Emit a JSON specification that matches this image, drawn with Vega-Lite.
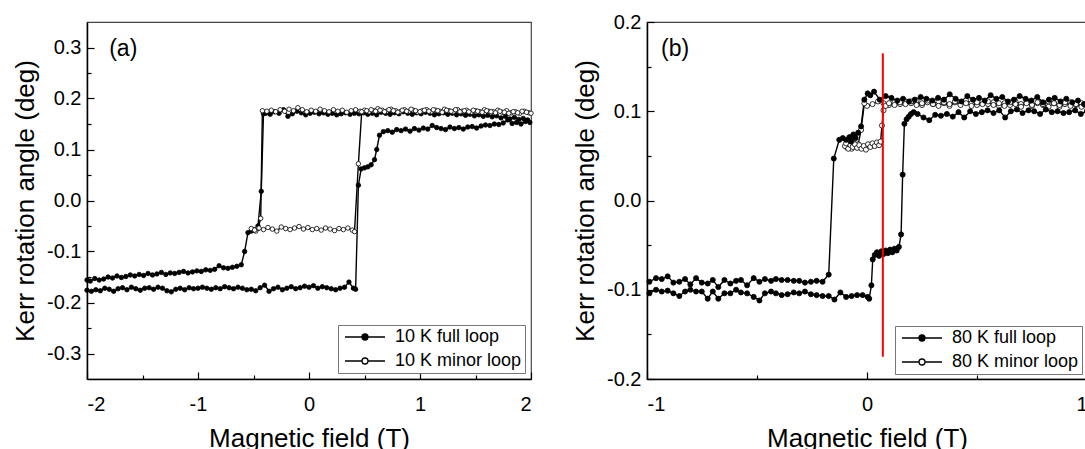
{
  "$schema": "https://vega.github.io/schema/vega-lite/v6.json",
  "padding": {"left": 11, "top": 11, "right": 0, "bottom": 0},
  "spacing": 35,
  "config": {
    "font": "Liberation Sans",
    "view": {"stroke": "#444", "strokeWidth": 1.2},
    "axis": {
      "grid": false, "domainColor": "black", "domainWidth": 1.5,
      "tickColor": "black", "tickWidth": 1.2,
      "labelFont": "Liberation Sans", "labelFontSize": 20, "labelColor": "black",
      "titleFont": "Liberation Sans", "titleFontSize": 26, "titleFontWeight": "normal", "titleColor": "black"
    },
    "axisX": {"minExtent": 38, "maxExtent": 38, "titlePadding": 8, "labelPadding": 22},
    "axisY": {"minExtent": 40, "maxExtent": 40, "titlePadding": 9, "labelPadding": 13},
    "legend": {
      "title": null, "orient": "bottom-right",
      "symbolType": "M-1,0H2.4M3.6,0H7M2.4,0A0.6,0.6,0,1,0,3.6,0A0.6,0.6,0,1,0,2.4,0Z",
      "symbolSize": 100, "symbolStrokeColor": "black", "symbolStrokeWidth": 1.3,
      "labelOffset": 36, "labelFont": "Liberation Sans", "labelFontSize": 18, "labelColor": "black",
      "strokeColor": "#777", "fillColor": "white", "padding": 3, "rowPadding": 6
    }
  },
  "resolve": {"scale": {"fill": "independent"}, "legend": {"fill": "independent"}},
  "datasets": {
    "a": [
      {"s":"F","x":-2,"y":-0.176},{"s":"F","x":-1.96,"y":-0.178},{"s":"F","x":-1.92,"y":-0.175},{"s":"F","x":-1.88,"y":-0.177},{"s":"F","x":-1.84,"y":-0.172},{"s":"F","x":-1.8,"y":-0.174},{"s":"F","x":-1.76,"y":-0.178},{"s":"F","x":-1.72,"y":-0.173},{"s":"F","x":-1.68,"y":-0.171},{"s":"F","x":-1.64,"y":-0.175},{"s":"F","x":-1.6,"y":-0.17},{"s":"F","x":-1.56,"y":-0.173},{"s":"F","x":-1.52,"y":-0.176},{"s":"F","x":-1.48,"y":-0.172},{"s":"F","x":-1.44,"y":-0.171},{"s":"F","x":-1.4,"y":-0.174},{"s":"F","x":-1.36,"y":-0.17},{"s":"F","x":-1.32,"y":-0.172},{"s":"F","x":-1.28,"y":-0.177},{"s":"F","x":-1.24,"y":-0.179},{"s":"F","x":-1.2,"y":-0.174},{"s":"F","x":-1.16,"y":-0.172},{"s":"F","x":-1.12,"y":-0.175},{"s":"F","x":-1.08,"y":-0.171},{"s":"F","x":-1.04,"y":-0.173},{"s":"F","x":-1,"y":-0.172},{"s":"F","x":-0.96,"y":-0.17},{"s":"F","x":-0.92,"y":-0.172},{"s":"F","x":-0.88,"y":-0.174},{"s":"F","x":-0.84,"y":-0.171},{"s":"F","x":-0.8,"y":-0.173},{"s":"F","x":-0.76,"y":-0.169},{"s":"F","x":-0.72,"y":-0.171},{"s":"F","x":-0.68,"y":-0.173},{"s":"F","x":-0.64,"y":-0.17},{"s":"F","x":-0.6,"y":-0.172},{"s":"F","x":-0.56,"y":-0.175},{"s":"F","x":-0.52,"y":-0.174},{"s":"F","x":-0.48,"y":-0.177},{"s":"F","x":-0.44,"y":-0.171},{"s":"F","x":-0.4,"y":-0.166},{"s":"F","x":-0.36,"y":-0.178},{"s":"F","x":-0.32,"y":-0.173},{"s":"F","x":-0.28,"y":-0.17},{"s":"F","x":-0.24,"y":-0.175},{"s":"F","x":-0.2,"y":-0.172},{"s":"F","x":-0.16,"y":-0.169},{"s":"F","x":-0.12,"y":-0.173},{"s":"F","x":-0.08,"y":-0.171},{"s":"F","x":-0.04,"y":-0.168},{"s":"F","x":0,"y":-0.17},{"s":"F","x":0.04,"y":-0.167},{"s":"F","x":0.08,"y":-0.172},{"s":"F","x":0.12,"y":-0.169},{"s":"F","x":0.16,"y":-0.171},{"s":"F","x":0.2,"y":-0.173},{"s":"F","x":0.24,"y":-0.175},{"s":"F","x":0.28,"y":-0.172},{"s":"F","x":0.32,"y":-0.17},{"s":"F","x":0.36,"y":-0.16},{"s":"F","x":0.4,"y":-0.172},{"s":"F","x":0.42,"y":-0.174},
      {"s":"F","x":0.445,"y":0.03},{"s":"F","x":0.47,"y":0.062},{"s":"F","x":0.5,"y":0.064},{"s":"F","x":0.53,"y":0.066},{"s":"F","x":0.56,"y":0.07},{"s":"F","x":0.59,"y":0.08},{"s":"F","x":0.61,"y":0.1},{"s":"F","x":0.635,"y":0.128},{"s":"F","x":0.67,"y":0.135},{"s":"F","x":0.71,"y":0.137},{"s":"F","x":0.75,"y":0.134},{"s":"F","x":0.79,"y":0.139},{"s":"F","x":0.83,"y":0.137},{"s":"F","x":0.87,"y":0.14},{"s":"F","x":0.91,"y":0.136},{"s":"F","x":0.95,"y":0.141},{"s":"F","x":0.99,"y":0.138},{"s":"F","x":1.03,"y":0.142},{"s":"F","x":1.07,"y":0.14},{"s":"F","x":1.11,"y":0.147},{"s":"F","x":1.15,"y":0.143},{"s":"F","x":1.19,"y":0.141},{"s":"F","x":1.23,"y":0.139},{"s":"F","x":1.27,"y":0.144},{"s":"F","x":1.31,"y":0.141},{"s":"F","x":1.35,"y":0.143},{"s":"F","x":1.39,"y":0.14},{"s":"F","x":1.43,"y":0.144},{"s":"F","x":1.47,"y":0.145},{"s":"F","x":1.51,"y":0.142},{"s":"F","x":1.55,"y":0.146},{"s":"F","x":1.59,"y":0.148},{"s":"F","x":1.63,"y":0.147},{"s":"F","x":1.67,"y":0.15},{"s":"F","x":1.71,"y":0.149},{"s":"F","x":1.75,"y":0.152},{"s":"F","x":1.79,"y":0.158},{"s":"F","x":1.83,"y":0.151},{"s":"F","x":1.87,"y":0.153},{"s":"F","x":1.91,"y":0.15},{"s":"F","x":1.95,"y":0.155},{"s":"F","x":1.99,"y":0.153},
      {"s":"F","x":1.97,"y":0.158},{"s":"F","x":1.93,"y":0.161},{"s":"F","x":1.89,"y":0.159},{"s":"F","x":1.85,"y":0.163},{"s":"F","x":1.81,"y":0.16},{"s":"F","x":1.77,"y":0.165},{"s":"F","x":1.73,"y":0.162},{"s":"F","x":1.69,"y":0.166},{"s":"F","x":1.65,"y":0.164},{"s":"F","x":1.61,"y":0.167},{"s":"F","x":1.57,"y":0.165},{"s":"F","x":1.53,"y":0.168},{"s":"F","x":1.49,"y":0.166},{"s":"F","x":1.45,"y":0.169},{"s":"F","x":1.41,"y":0.167},{"s":"F","x":1.37,"y":0.17},{"s":"F","x":1.33,"y":0.168},{"s":"F","x":1.29,"y":0.171},{"s":"F","x":1.25,"y":0.169},{"s":"F","x":1.21,"y":0.172},{"s":"F","x":1.17,"y":0.17},{"s":"F","x":1.13,"y":0.168},{"s":"F","x":1.09,"y":0.171},{"s":"F","x":1.05,"y":0.173},{"s":"F","x":1.01,"y":0.17},{"s":"F","x":0.97,"y":0.172},{"s":"F","x":0.93,"y":0.169},{"s":"F","x":0.89,"y":0.171},{"s":"F","x":0.85,"y":0.174},{"s":"F","x":0.81,"y":0.17},{"s":"F","x":0.77,"y":0.172},{"s":"F","x":0.73,"y":0.169},{"s":"F","x":0.69,"y":0.171},{"s":"F","x":0.65,"y":0.173},{"s":"F","x":0.61,"y":0.168},{"s":"F","x":0.57,"y":0.171},{"s":"F","x":0.53,"y":0.169},{"s":"F","x":0.49,"y":0.172},{"s":"F","x":0.45,"y":0.17},{"s":"F","x":0.41,"y":0.171},{"s":"F","x":0.37,"y":0.169},{"s":"F","x":0.33,"y":0.172},{"s":"F","x":0.29,"y":0.17},{"s":"F","x":0.25,"y":0.168},{"s":"F","x":0.21,"y":0.171},{"s":"F","x":0.17,"y":0.169},{"s":"F","x":0.13,"y":0.172},{"s":"F","x":0.09,"y":0.17},{"s":"F","x":0.05,"y":0.173},{"s":"F","x":0.01,"y":0.171},{"s":"F","x":-0.03,"y":0.168},{"s":"F","x":-0.07,"y":0.172},{"s":"F","x":-0.11,"y":0.175},{"s":"F","x":-0.15,"y":0.17},{"s":"F","x":-0.19,"y":0.165},{"s":"F","x":-0.23,"y":0.178},{"s":"F","x":-0.27,"y":0.171},{"s":"F","x":-0.31,"y":0.174},{"s":"F","x":-0.35,"y":0.169},{"s":"F","x":-0.39,"y":0.171},{"s":"F","x":-0.41,"y":0.17},
      {"s":"F","x":-0.43,"y":0.018},{"s":"F","x":-0.46,"y":-0.05},{"s":"F","x":-0.49,"y":-0.058},{"s":"F","x":-0.52,"y":-0.06},{"s":"F","x":-0.55,"y":-0.063},{"s":"F","x":-0.58,"y":-0.1},{"s":"F","x":-0.61,"y":-0.126},{"s":"F","x":-0.65,"y":-0.129},{"s":"F","x":-0.69,"y":-0.131},{"s":"F","x":-0.73,"y":-0.133},{"s":"F","x":-0.77,"y":-0.132},{"s":"F","x":-0.81,"y":-0.128},{"s":"F","x":-0.85,"y":-0.135},{"s":"F","x":-0.89,"y":-0.137},{"s":"F","x":-0.93,"y":-0.136},{"s":"F","x":-0.97,"y":-0.139},{"s":"F","x":-1.01,"y":-0.138},{"s":"F","x":-1.05,"y":-0.14},{"s":"F","x":-1.09,"y":-0.142},{"s":"F","x":-1.13,"y":-0.139},{"s":"F","x":-1.17,"y":-0.141},{"s":"F","x":-1.21,"y":-0.143},{"s":"F","x":-1.25,"y":-0.142},{"s":"F","x":-1.29,"y":-0.145},{"s":"F","x":-1.33,"y":-0.141},{"s":"F","x":-1.37,"y":-0.144},{"s":"F","x":-1.41,"y":-0.146},{"s":"F","x":-1.45,"y":-0.143},{"s":"F","x":-1.49,"y":-0.147},{"s":"F","x":-1.53,"y":-0.145},{"s":"F","x":-1.57,"y":-0.148},{"s":"F","x":-1.61,"y":-0.146},{"s":"F","x":-1.65,"y":-0.149},{"s":"F","x":-1.69,"y":-0.151},{"s":"F","x":-1.73,"y":-0.148},{"s":"F","x":-1.77,"y":-0.152},{"s":"F","x":-1.81,"y":-0.15},{"s":"F","x":-1.85,"y":-0.154},{"s":"F","x":-1.89,"y":-0.156},{"s":"F","x":-1.93,"y":-0.153},{"s":"F","x":-1.97,"y":-0.158},{"s":"F","x":-2,"y":-0.156},
      {"s":"M","x":1.98,"y":0.172},{"s":"M","x":1.94,"y":0.175},{"s":"M","x":1.9,"y":0.171},{"s":"M","x":1.86,"y":0.174},{"s":"M","x":1.82,"y":0.172},{"s":"M","x":1.78,"y":0.176},{"s":"M","x":1.74,"y":0.173},{"s":"M","x":1.7,"y":0.177},{"s":"M","x":1.66,"y":0.174},{"s":"M","x":1.62,"y":0.175},{"s":"M","x":1.58,"y":0.178},{"s":"M","x":1.54,"y":0.174},{"s":"M","x":1.5,"y":0.176},{"s":"M","x":1.46,"y":0.173},{"s":"M","x":1.42,"y":0.177},{"s":"M","x":1.38,"y":0.175},{"s":"M","x":1.34,"y":0.178},{"s":"M","x":1.3,"y":0.174},{"s":"M","x":1.26,"y":0.176},{"s":"M","x":1.22,"y":0.179},{"s":"M","x":1.18,"y":0.175},{"s":"M","x":1.14,"y":0.177},{"s":"M","x":1.1,"y":0.174},{"s":"M","x":1.06,"y":0.178},{"s":"M","x":1.02,"y":0.176},{"s":"M","x":0.98,"y":0.173},{"s":"M","x":0.94,"y":0.177},{"s":"M","x":0.9,"y":0.175},{"s":"M","x":0.86,"y":0.178},{"s":"M","x":0.82,"y":0.174},{"s":"M","x":0.78,"y":0.176},{"s":"M","x":0.74,"y":0.179},{"s":"M","x":0.7,"y":0.175},{"s":"M","x":0.66,"y":0.177},{"s":"M","x":0.62,"y":0.18},{"s":"M","x":0.58,"y":0.176},{"s":"M","x":0.54,"y":0.174},{"s":"M","x":0.5,"y":0.177},{"s":"M","x":0.46,"y":0.175},{"s":"M","x":0.42,"y":0.178},{"s":"M","x":0.38,"y":0.176},{"s":"M","x":0.34,"y":0.173},{"s":"M","x":0.3,"y":0.177},{"s":"M","x":0.26,"y":0.175},{"s":"M","x":0.22,"y":0.178},{"s":"M","x":0.18,"y":0.174},{"s":"M","x":0.14,"y":0.176},{"s":"M","x":0.1,"y":0.179},{"s":"M","x":0.06,"y":0.175},{"s":"M","x":0.02,"y":0.177},{"s":"M","x":-0.02,"y":0.174},{"s":"M","x":-0.06,"y":0.178},{"s":"M","x":-0.1,"y":0.182},{"s":"M","x":-0.14,"y":0.176},{"s":"M","x":-0.18,"y":0.179},{"s":"M","x":-0.22,"y":0.175},{"s":"M","x":-0.26,"y":0.178},{"s":"M","x":-0.3,"y":0.174},{"s":"M","x":-0.34,"y":0.177},{"s":"M","x":-0.38,"y":0.175},{"s":"M","x":-0.42,"y":0.176},
      {"s":"M","x":-0.435,"y":-0.035},{"s":"M","x":-0.46,"y":-0.055},{"s":"M","x":-0.48,"y":-0.06},{"s":"M","x":-0.5,"y":-0.057},{"s":"M","x":-0.52,"y":-0.055},{"s":"M","x":-0.49,"y":-0.058},{"s":"M","x":-0.45,"y":-0.054},{"s":"M","x":-0.41,"y":-0.057},{"s":"M","x":-0.37,"y":-0.053},{"s":"M","x":-0.33,"y":-0.056},{"s":"M","x":-0.29,"y":-0.06},{"s":"M","x":-0.25,"y":-0.052},{"s":"M","x":-0.21,"y":-0.055},{"s":"M","x":-0.17,"y":-0.057},{"s":"M","x":-0.13,"y":-0.054},{"s":"M","x":-0.09,"y":-0.051},{"s":"M","x":-0.05,"y":-0.056},{"s":"M","x":-0.01,"y":-0.053},{"s":"M","x":0.03,"y":-0.057},{"s":"M","x":0.07,"y":-0.055},{"s":"M","x":0.11,"y":-0.058},{"s":"M","x":0.15,"y":-0.054},{"s":"M","x":0.19,"y":-0.056},{"s":"M","x":0.23,"y":-0.059},{"s":"M","x":0.27,"y":-0.055},{"s":"M","x":0.31,"y":-0.057},{"s":"M","x":0.35,"y":-0.054},{"s":"M","x":0.39,"y":-0.058},{"s":"M","x":0.41,"y":-0.061},
      {"s":"M","x":0.445,"y":0.072},{"s":"M","x":0.475,"y":0.174},{"s":"M","x":0.52,"y":0.176},{"s":"M","x":0.56,"y":0.178},{"s":"M","x":0.6,"y":0.175},{"s":"M","x":0.64,"y":0.177},{"s":"M","x":0.68,"y":0.174},{"s":"M","x":0.72,"y":0.178},{"s":"M","x":0.76,"y":0.176},{"s":"M","x":0.8,"y":0.173},{"s":"M","x":0.84,"y":0.177},{"s":"M","x":0.88,"y":0.175},{"s":"M","x":0.92,"y":0.179},{"s":"M","x":0.96,"y":0.176},{"s":"M","x":1,"y":0.174},{"s":"M","x":1.04,"y":0.177},{"s":"M","x":1.08,"y":0.175},{"s":"M","x":1.12,"y":0.178},{"s":"M","x":1.16,"y":0.176},{"s":"M","x":1.2,"y":0.173},{"s":"M","x":1.24,"y":0.177},{"s":"M","x":1.28,"y":0.175},{"s":"M","x":1.32,"y":0.178},{"s":"M","x":1.36,"y":0.174},{"s":"M","x":1.4,"y":0.176},{"s":"M","x":1.44,"y":0.174},{"s":"M","x":1.48,"y":0.177},{"s":"M","x":1.52,"y":0.175},{"s":"M","x":1.56,"y":0.173},{"s":"M","x":1.6,"y":0.176},{"s":"M","x":1.64,"y":0.174},{"s":"M","x":1.68,"y":0.172},{"s":"M","x":1.72,"y":0.175},{"s":"M","x":1.76,"y":0.173},{"s":"M","x":1.8,"y":0.171},{"s":"M","x":1.84,"y":0.174},{"s":"M","x":1.88,"y":0.172},{"s":"M","x":1.92,"y":0.175},{"s":"M","x":1.96,"y":0.173},{"s":"M","x":2,"y":0.171}
    ],
    "b": [
      {"s":"M","x":1,"y":0.106},{"s":"M","x":0.975,"y":0.109},{"s":"M","x":0.95,"y":0.107},{"s":"M","x":0.925,"y":0.11},{"s":"M","x":0.9,"y":0.108},{"s":"M","x":0.875,"y":0.105},{"s":"M","x":0.85,"y":0.109},{"s":"M","x":0.825,"y":0.111},{"s":"M","x":0.8,"y":0.107},{"s":"M","x":0.775,"y":0.109},{"s":"M","x":0.75,"y":0.106},{"s":"M","x":0.725,"y":0.11},{"s":"M","x":0.7,"y":0.108},{"s":"M","x":0.675,"y":0.111},{"s":"M","x":0.65,"y":0.107},{"s":"M","x":0.625,"y":0.109},{"s":"M","x":0.6,"y":0.106},{"s":"M","x":0.575,"y":0.11},{"s":"M","x":0.55,"y":0.108},{"s":"M","x":0.525,"y":0.111},{"s":"M","x":0.5,"y":0.107},{"s":"M","x":0.475,"y":0.109},{"s":"M","x":0.45,"y":0.112},{"s":"M","x":0.425,"y":0.108},{"s":"M","x":0.4,"y":0.11},{"s":"M","x":0.375,"y":0.106},{"s":"M","x":0.35,"y":0.109},{"s":"M","x":0.325,"y":0.111},{"s":"M","x":0.3,"y":0.108},{"s":"M","x":0.275,"y":0.11},{"s":"M","x":0.25,"y":0.107},{"s":"M","x":0.225,"y":0.112},{"s":"M","x":0.2,"y":0.109},{"s":"M","x":0.175,"y":0.111},{"s":"M","x":0.15,"y":0.108},{"s":"M","x":0.125,"y":0.11},{"s":"M","x":0.1,"y":0.107},{"s":"M","x":0.075,"y":0.109},{"s":"M","x":0.05,"y":0.111},{"s":"M","x":0.025,"y":0.108},{"s":"M","x":0,"y":0.106},{"s":"M","x":-0.012,"y":0.109},
      {"s":"M","x":-0.027,"y":0.079},{"s":"M","x":-0.04,"y":0.063},{"s":"M","x":-0.05,"y":0.06},{"s":"M","x":-0.06,"y":0.064},{"s":"M","x":-0.07,"y":0.058},{"s":"M","x":-0.08,"y":0.062},{"s":"M","x":-0.09,"y":0.059},{"s":"M","x":-0.1,"y":0.061},{"s":"M","x":-0.095,"y":0.064},{"s":"M","x":-0.085,"y":0.058},{"s":"M","x":-0.075,"y":0.062},{"s":"M","x":-0.065,"y":0.06},{"s":"M","x":-0.055,"y":0.063},{"s":"M","x":-0.045,"y":0.059},{"s":"M","x":-0.035,"y":0.062},{"s":"M","x":-0.025,"y":0.058},{"s":"M","x":-0.015,"y":0.061},{"s":"M","x":-0.005,"y":0.057},{"s":"M","x":0.005,"y":0.063},{"s":"M","x":0.015,"y":0.06},{"s":"M","x":0.025,"y":0.064},{"s":"M","x":0.035,"y":0.061},{"s":"M","x":0.045,"y":0.065},{"s":"M","x":0.055,"y":0.062},{"s":"M","x":0.062,"y":0.066},
      {"s":"M","x":0.068,"y":0.084},{"s":"M","x":0.075,"y":0.101},{"s":"M","x":0.085,"y":0.106},{"s":"M","x":0.1,"y":0.109},{"s":"M","x":0.125,"y":0.107},{"s":"M","x":0.15,"y":0.11},{"s":"M","x":0.175,"y":0.108},{"s":"M","x":0.2,"y":0.111},{"s":"M","x":0.225,"y":0.107},{"s":"M","x":0.25,"y":0.109},{"s":"M","x":0.275,"y":0.112},{"s":"M","x":0.3,"y":0.108},{"s":"M","x":0.325,"y":0.106},{"s":"M","x":0.35,"y":0.11},{"s":"M","x":0.375,"y":0.108},{"s":"M","x":0.4,"y":0.111},{"s":"M","x":0.425,"y":0.107},{"s":"M","x":0.45,"y":0.109},{"s":"M","x":0.475,"y":0.106},{"s":"M","x":0.5,"y":0.11},{"s":"M","x":0.525,"y":0.108},{"s":"M","x":0.55,"y":0.111},{"s":"M","x":0.575,"y":0.107},{"s":"M","x":0.6,"y":0.109},{"s":"M","x":0.625,"y":0.106},{"s":"M","x":0.65,"y":0.11},{"s":"M","x":0.675,"y":0.108},{"s":"M","x":0.7,"y":0.105},{"s":"M","x":0.725,"y":0.109},{"s":"M","x":0.75,"y":0.107},{"s":"M","x":0.775,"y":0.11},{"s":"M","x":0.8,"y":0.108},{"s":"M","x":0.825,"y":0.105},{"s":"M","x":0.85,"y":0.109},{"s":"M","x":0.875,"y":0.107},{"s":"M","x":0.9,"y":0.11},{"s":"M","x":0.925,"y":0.106},{"s":"M","x":0.95,"y":0.108},{"s":"M","x":0.975,"y":0.105},{"s":"M","x":1,"y":0.109},
      {"s":"F","x":-0.989,"y":-0.104},{"s":"F","x":-0.959,"y":-0.1},{"s":"F","x":-0.933,"y":-0.102},{"s":"F","x":-0.906,"y":-0.101},{"s":"F","x":-0.88,"y":-0.104},{"s":"F","x":-0.853,"y":-0.107},{"s":"F","x":-0.827,"y":-0.102},{"s":"F","x":-0.803,"y":-0.1},{"s":"F","x":-0.777,"y":-0.102},{"s":"F","x":-0.751,"y":-0.102},{"s":"F","x":-0.724,"y":-0.11},{"s":"F","x":-0.701,"y":-0.102},{"s":"F","x":-0.676,"y":-0.11},{"s":"F","x":-0.648,"y":-0.104},{"s":"F","x":-0.621,"y":-0.104},{"s":"F","x":-0.595,"y":-0.1},{"s":"F","x":-0.573,"y":-0.103},{"s":"F","x":-0.545,"y":-0.104},{"s":"F","x":-0.515,"y":-0.108},{"s":"F","x":-0.489,"y":-0.112},{"s":"F","x":-0.464,"y":-0.104},{"s":"F","x":-0.436,"y":-0.102},{"s":"F","x":-0.414,"y":-0.104},{"s":"F","x":-0.388,"y":-0.106},{"s":"F","x":-0.361,"y":-0.105},{"s":"F","x":-0.333,"y":-0.103},{"s":"F","x":-0.308,"y":-0.104},{"s":"F","x":-0.282,"y":-0.102},{"s":"F","x":-0.255,"y":-0.105},{"s":"F","x":-0.229,"y":-0.106},{"s":"F","x":-0.202,"y":-0.107},{"s":"F","x":-0.174,"y":-0.107},{"s":"F","x":-0.148,"y":-0.111},{"s":"F","x":-0.121,"y":-0.103},{"s":"F","x":-0.095,"y":-0.108},{"s":"F","x":-0.07,"y":-0.107},{"s":"F","x":-0.045,"y":-0.106},{"s":"F","x":-0.02,"y":-0.106},{"s":"F","x":0.003,"y":-0.108},
      {"s":"F","x":0.01,"y":-0.11},{"s":"F","x":0.02,"y":-0.095},{"s":"F","x":0.026,"y":-0.066},{"s":"F","x":0.035,"y":-0.061},{"s":"F","x":0.045,"y":-0.058},{"s":"F","x":0.055,"y":-0.062},{"s":"F","x":0.065,"y":-0.057},{"s":"F","x":0.075,"y":-0.06},{"s":"F","x":0.085,"y":-0.056},{"s":"F","x":0.095,"y":-0.059},{"s":"F","x":0.105,"y":-0.055},{"s":"F","x":0.115,"y":-0.058},{"s":"F","x":0.125,"y":-0.054},{"s":"F","x":0.135,"y":-0.056},{"s":"F","x":0.145,"y":-0.052},{"s":"F","x":0.155,"y":-0.038},{"s":"F","x":0.162,"y":0.029},{"s":"F","x":0.17,"y":0.086},{"s":"F","x":0.18,"y":0.091},{"s":"F","x":0.19,"y":0.094},{"s":"F","x":0.2,"y":0.097},{"s":"F","x":0.212,"y":0.099},{"s":"F","x":0.23,"y":0.097},
      {"s":"F","x":0.257,"y":0.093},{"s":"F","x":0.283,"y":0.09},{"s":"F","x":0.31,"y":0.096},{"s":"F","x":0.336,"y":0.095},{"s":"F","x":0.363,"y":0.097},{"s":"F","x":0.39,"y":0.094},{"s":"F","x":0.416,"y":0.099},{"s":"F","x":0.442,"y":0.093},{"s":"F","x":0.469,"y":0.1},{"s":"F","x":0.495,"y":0.097},{"s":"F","x":0.522,"y":0.099},{"s":"F","x":0.548,"y":0.101},{"s":"F","x":0.575,"y":0.098},{"s":"F","x":0.601,"y":0.101},{"s":"F","x":0.628,"y":0.093},{"s":"F","x":0.654,"y":0.1},{"s":"F","x":0.681,"y":0.102},{"s":"F","x":0.707,"y":0.098},{"s":"F","x":0.734,"y":0.101},{"s":"F","x":0.76,"y":0.1},{"s":"F","x":0.787,"y":0.097},{"s":"F","x":0.813,"y":0.102},{"s":"F","x":0.84,"y":0.099},{"s":"F","x":0.866,"y":0.1},{"s":"F","x":0.893,"y":0.098},{"s":"F","x":0.919,"y":0.099},{"s":"F","x":0.946,"y":0.101},{"s":"F","x":0.972,"y":0.097},{"s":"F","x":0.999,"y":0.1},
      {"s":"F","x":0.986,"y":0.108},{"s":"F","x":0.959,"y":0.112},{"s":"F","x":0.933,"y":0.11},{"s":"F","x":0.906,"y":0.114},{"s":"F","x":0.88,"y":0.111},{"s":"F","x":0.853,"y":0.115},{"s":"F","x":0.827,"y":0.113},{"s":"F","x":0.8,"y":0.11},{"s":"F","x":0.774,"y":0.116},{"s":"F","x":0.747,"y":0.112},{"s":"F","x":0.721,"y":0.114},{"s":"F","x":0.694,"y":0.117},{"s":"F","x":0.668,"y":0.113},{"s":"F","x":0.641,"y":0.111},{"s":"F","x":0.615,"y":0.116},{"s":"F","x":0.588,"y":0.114},{"s":"F","x":0.562,"y":0.118},{"s":"F","x":0.535,"y":0.112},{"s":"F","x":0.509,"y":0.115},{"s":"F","x":0.482,"y":0.113},{"s":"F","x":0.456,"y":0.117},{"s":"F","x":0.429,"y":0.111},{"s":"F","x":0.403,"y":0.114},{"s":"F","x":0.376,"y":0.119},{"s":"F","x":0.35,"y":0.113},{"s":"F","x":0.323,"y":0.115},{"s":"F","x":0.297,"y":0.112},{"s":"F","x":0.27,"y":0.114},{"s":"F","x":0.244,"y":0.116},{"s":"F","x":0.217,"y":0.113},{"s":"F","x":0.191,"y":0.111},{"s":"F","x":0.164,"y":0.114},{"s":"F","x":0.138,"y":0.112},{"s":"F","x":0.111,"y":0.115},{"s":"F","x":0.085,"y":0.117},{"s":"F","x":0.058,"y":0.113},{"s":"F","x":0.032,"y":0.122},{"s":"F","x":0.015,"y":0.118},{"s":"F","x":0.003,"y":0.12},{"s":"F","x":-0.012,"y":0.113},
      {"s":"F","x":-0.027,"y":0.083},{"s":"F","x":-0.04,"y":0.076},{"s":"F","x":-0.052,"y":0.07},{"s":"F","x":-0.062,"y":0.074},{"s":"F","x":-0.072,"y":0.066},{"s":"F","x":-0.08,"y":0.071},{"s":"F","x":-0.095,"y":0.068},{"s":"F","x":-0.11,"y":0.07},{"s":"F","x":-0.126,"y":0.068},{"s":"F","x":-0.151,"y":0.047},{"s":"F","x":-0.174,"y":-0.083},
      {"s":"F","x":-0.202,"y":-0.091},{"s":"F","x":-0.229,"y":-0.09},{"s":"F","x":-0.255,"y":-0.091},{"s":"F","x":-0.282,"y":-0.092},{"s":"F","x":-0.308,"y":-0.09},{"s":"F","x":-0.333,"y":-0.09},{"s":"F","x":-0.361,"y":-0.089},{"s":"F","x":-0.388,"y":-0.089},{"s":"F","x":-0.414,"y":-0.088},{"s":"F","x":-0.436,"y":-0.09},{"s":"F","x":-0.464,"y":-0.088},{"s":"F","x":-0.489,"y":-0.091},{"s":"F","x":-0.515,"y":-0.087},{"s":"F","x":-0.545,"y":-0.095},{"s":"F","x":-0.573,"y":-0.089},{"s":"F","x":-0.595,"y":-0.09},{"s":"F","x":-0.621,"y":-0.093},{"s":"F","x":-0.648,"y":-0.089},{"s":"F","x":-0.676,"y":-0.097},{"s":"F","x":-0.701,"y":-0.089},{"s":"F","x":-0.724,"y":-0.093},{"s":"F","x":-0.751,"y":-0.092},{"s":"F","x":-0.777,"y":-0.087},{"s":"F","x":-0.803,"y":-0.094},{"s":"F","x":-0.827,"y":-0.088},{"s":"F","x":-0.853,"y":-0.091},{"s":"F","x":-0.88,"y":-0.092},{"s":"F","x":-0.906,"y":-0.085},{"s":"F","x":-0.933,"y":-0.088},{"s":"F","x":-0.959,"y":-0.087},{"s":"F","x":-0.989,"y":-0.091}
    ]
  },
  "hconcat": [
    {
      "width": 444, "height": 357,
      "data": {"name": "a"},
      "encoding": {
        "x": {"field": "x", "type": "quantitative",
          "scale": {"domain": [-2, 2], "nice": false, "zero": false},
          "axis": {"title": "Magnetic field (T)", "values": [-2, -1.5, -1, -0.5, 0, 0.5, 1, 1.5, 2],
            "labelExpr": "datum.value % 1 == 0 ? (datum.value < 0 ? '-' : '') + format(abs(datum.value), 'd') : ''",
            "tickSize": {"condition": {"test": "datum.value % 1 == 0", "value": -7}, "value": -4}}},
        "y": {"field": "y", "type": "quantitative",
          "scale": {"domain": [-0.35, 0.35], "nice": false, "zero": false},
          "axis": {"title": "Kerr rotation angle (deg)", "values": [-0.3, -0.25, -0.2, -0.15, -0.1, -0.05, 0, 0.05, 0.1, 0.15, 0.2, 0.25, 0.3],
            "labelExpr": "abs(round(datum.value * 100)) % 10 == 0 ? (datum.value < -0.0001 ? '-' : '') + format(abs(datum.value), '.1f') : ''",
            "tickSize": {"condition": {"test": "abs(round(datum.value * 100)) % 10 == 0", "value": -7}, "value": -4}}}
      },
      "layer": [
        {"mark": {"type": "line", "color": "black", "strokeWidth": 1.4},
         "encoding": {"detail": {"field": "s"}, "order": {"value": null}}},
        {"mark": {"type": "point", "filled": true, "stroke": "black", "strokeWidth": 0.8, "opacity": 1, "size": 20},
         "encoding": {"fill": {"field": "s", "type": "nominal",
           "scale": {"domain": ["F", "M"], "range": ["black", "white"]},
           "legend": {"offset": 6, "labelExpr": "datum.label == 'F' ? '10 K full loop' : '10 K minor loop'"}}}},
        {"data": {"values": [{"x": -1.8, "y": 0.297, "t": "(a)"}]},
         "mark": {"type": "text", "align": "left", "baseline": "middle", "fontSize": 23, "color": "black"},
         "encoding": {"text": {"field": "t"}}}
      ]
    },
    {
      "width": 440, "height": 357,
      "data": {"name": "b"},
      "encoding": {
        "x": {"field": "x", "type": "quantitative",
          "scale": {"domain": [-1, 1], "nice": false, "zero": false},
          "axis": {"title": "Magnetic field (T)", "values": [-1, -0.5, 0, 0.5, 1],
            "labelExpr": "datum.value % 1 == 0 ? (datum.value < 0 ? '-' : '') + format(abs(datum.value), 'd') : ''",
            "tickSize": {"condition": {"test": "datum.value % 1 == 0", "value": -7}, "value": -4}}},
        "y": {"field": "y", "type": "quantitative",
          "scale": {"domain": [-0.2, 0.2], "nice": false, "zero": false},
          "axis": {"title": "Kerr rotation angle (deg)", "values": [-0.2, -0.15, -0.1, -0.05, 0, 0.05, 0.1, 0.15, 0.2],
            "labelExpr": "abs(round(datum.value * 100)) % 10 == 0 ? (datum.value < -0.0001 ? '-' : '') + format(abs(datum.value), '.1f') : ''",
            "tickSize": {"condition": {"test": "abs(round(datum.value * 100)) % 10 == 0", "value": -7}, "value": -4}}}
      },
      "layer": [
        {"mark": {"type": "line", "color": "black", "strokeWidth": 1.4},
         "encoding": {"detail": {"field": "s"}, "order": {"value": null}}},
        {"mark": {"type": "point", "filled": true, "stroke": "black", "strokeWidth": 0.8, "opacity": 1, "size": 26},
         "encoding": {"fill": {"field": "s", "type": "nominal",
           "scale": {"domain": ["F", "M"], "range": ["black", "white"]},
           "legend": {"offset": 5, "labelExpr": "datum.label == 'F' ? '80 K full loop' : '80 K minor loop'"}}}},
        {"data": {"values": [{"x": 0.072, "y": -0.175, "y2": 0.165}]},
         "mark": {"type": "rule", "color": "#ff0000", "strokeWidth": 2},
         "encoding": {"y2": {"field": "y2"}}},
        {"data": {"values": [{"x": -0.936, "y": 0.17, "t": "(b)"}]},
         "mark": {"type": "text", "align": "left", "baseline": "middle", "fontSize": 23, "color": "black"},
         "encoding": {"text": {"field": "t"}}}
      ]
    }
  ]
}
